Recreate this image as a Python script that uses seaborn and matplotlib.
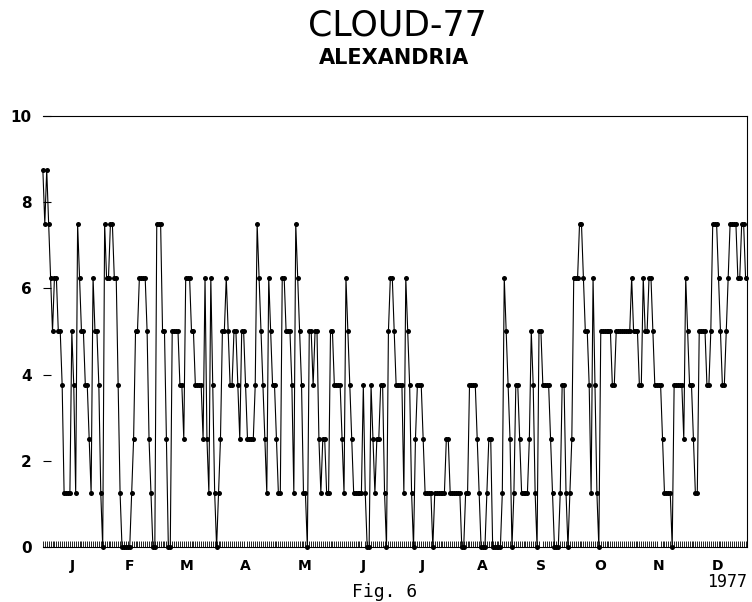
import numpy as np
import pandas as pd
import matplotlib
matplotlib.use("Agg")
import matplotlib.pyplot as plt
import seaborn as sns

# daily total cloud amount in oktas (0..8), one list per month
jan = [7, 6, 7, 6, 5, 4, 5, 5, 4, 4, 3, 1, 1, 1, 1, 4, 3, 1, 6, 5, 4, 4, 3, 3, 2, 1, 5, 4, 4, 3, 1]
feb = [0, 6, 5, 5, 6, 6, 5, 5, 3, 1, 0, 0, 0, 0, 0, 1, 2, 4, 4, 5, 5, 5, 5, 4, 2, 1, 0, 0]
mar = [6, 6, 6, 4, 4, 2, 0, 0, 4, 4, 4, 4, 3, 3, 2, 5, 5, 5, 4, 4, 3, 3, 3, 3, 2, 5, 2, 1, 5, 3, 1]
apr = [0, 1, 2, 4, 4, 5, 4, 3, 3, 4, 4, 3, 2, 4, 4, 3, 2, 2, 2, 2, 3, 6, 5, 4, 3, 2, 1, 5, 4, 3]
may = [3, 2, 1, 1, 5, 5, 4, 4, 4, 3, 1, 6, 5, 4, 3, 1, 1, 0, 4, 4, 3, 4, 4, 2, 1, 2, 2, 1, 1, 4, 4]
jun = [3, 3, 3, 3, 2, 1, 5, 4, 3, 2, 1, 1, 1, 1, 1, 3, 1, 0, 0, 3, 2, 1, 2, 2, 3, 3, 1, 0, 4, 5]
jul = [5, 4, 3, 3, 3, 3, 1, 5, 4, 3, 1, 0, 2, 3, 3, 3, 2, 1, 1, 1, 1, 0, 1, 1, 1, 1, 1, 1, 2, 2, 1]
aug = [1, 1, 1, 1, 1, 0, 0, 1, 1, 3, 3, 3, 3, 2, 1, 0, 0, 0, 1, 2, 2, 0, 0, 0, 0, 0, 1, 5, 4, 3, 2]
sep = [0, 1, 3, 3, 2, 1, 1, 1, 1, 2, 4, 3, 1, 0, 4, 4, 3, 3, 3, 3, 2, 1, 0, 0, 0, 1, 3, 3, 1, 0]
oct_ = [1, 2, 5, 5, 5, 6, 6, 5, 4, 4, 3, 1, 5, 3, 1, 0, 4, 4, 4, 4, 4, 4, 3, 3, 4, 4, 4, 4, 4, 4, 4]
nov = [4, 5, 4, 4, 4, 3, 3, 5, 4, 4, 5, 5, 4, 3, 3, 3, 3, 2, 1, 1, 1, 1, 0, 3, 3, 3, 3, 3, 2, 5]
dec = [4, 3, 3, 2, 1, 1, 4, 4, 4, 4, 3, 3, 4, 6, 6, 6, 5, 4, 3, 3, 4, 5, 6, 6, 6, 6, 5, 5, 6, 6, 5]

months = [jan, feb, mar, apr, may, jun, jul, aug, sep, oct_, nov, dec]
month_labels = ["J", "F", "M", "A", "M", "J", "J", "A", "S", "O", "N", "D"]
yticks = [0, 2, 4, 6, 8, 10]

oktas = np.concatenate(months)
df = pd.DataFrame({"day": np.arange(len(oktas)), "cover": oktas * 10 / 8})

sns.set_style("white")
plt.rcParams["font.family"] = ["DejaVu Sans"]
plt.rcParams["text.color"] = "black"
plt.rcParams["xtick.color"] = "black"
plt.rcParams["ytick.color"] = "black"
plt.rcParams["axes.labelcolor"] = "black"

fig = plt.figure(figsize=(7.52, 6.02), dpi=100)
ax = fig.add_axes([0.057, 0.0914, 0.937, 0.716])

sns.lineplot(data=df, x="day", y="cover", ax=ax, color="black", linewidth=0.8,
             marker="o", markersize=3.6, markeredgewidth=0, clip_on=False)

ax.set_xlim(0, 365)
ax.set_ylim(0, 10)
ax.set_xlabel("")
ax.set_ylabel("")

# month letters at mid-month, one small tick per day
lengths = [len(m) for m in months]
starts = np.concatenate([[0], np.cumsum(lengths)[:-1]])
mids = starts + np.array(lengths) / 2
ax.set_xticks(mids)
ax.set_xticklabels(month_labels, fontsize=10, fontweight="bold", color="black")
ax.set_xticks(np.arange(len(oktas)), minor=True)
ax.tick_params(axis="x", which="major", length=0, pad=9)
ax.tick_params(axis="x", which="minor", direction="in", length=4, width=0.6, color="black", bottom=True)

ax.set_yticks(yticks)
ax.set_yticklabels([str(v) for v in yticks], fontsize=11, fontweight="bold", color="black")
ax.tick_params(axis="y", direction="in", length=6, width=0.8, color="black", left=True, pad=8)

for side in ["top", "right", "bottom"]:
    ax.spines[side].set_color("black")
    ax.spines[side].set_linewidth(0.8)
ax.spines["left"].set_visible(False)

fig.text(0.529, 0.958, "CLOUD-77", ha="center", va="center", fontsize=25, color="black")
fig.text(0.524, 0.903, "ALEXANDRIA", ha="center", va="center", fontsize=15, fontweight="bold", color="black")
fig.text(0.512, 0.017, "Fig. 6", ha="center", va="center", fontsize=13, family="DejaVu Sans Mono", color="black")
fig.text(0.967, 0.033, "1977", ha="center", va="center", fontsize=12, family="DejaVu Sans Mono", color="black")

fig.savefig("out.png", dpi=100, facecolor="white")
